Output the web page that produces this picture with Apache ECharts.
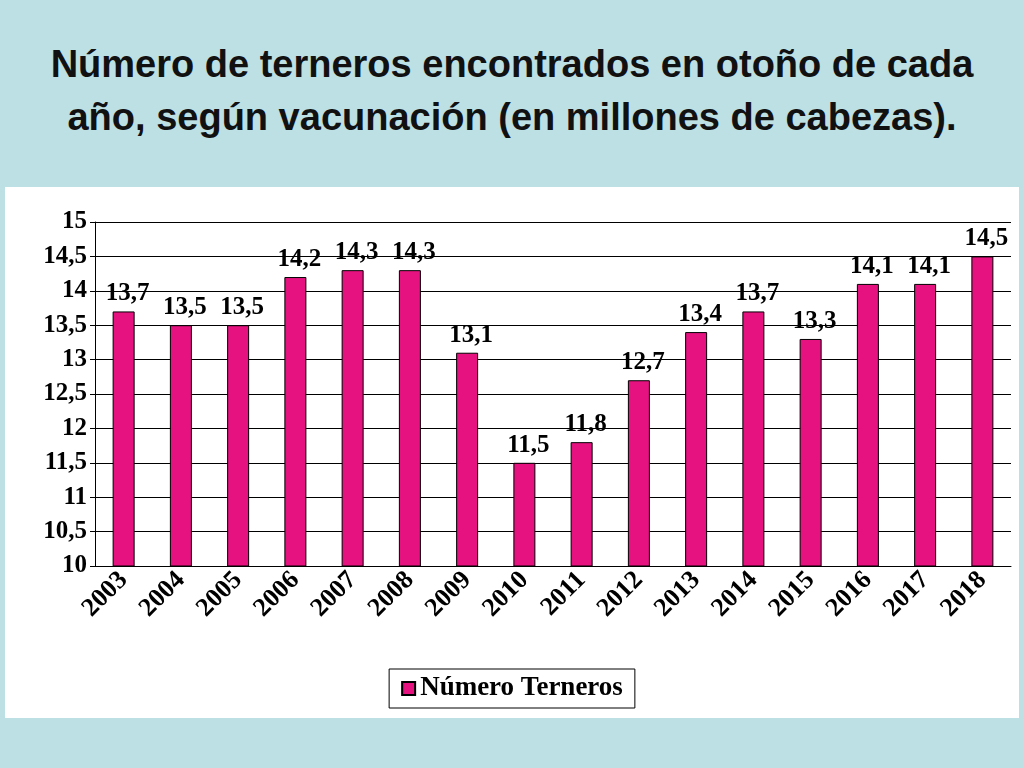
<!DOCTYPE html>
<html><head><meta charset="utf-8">
<script src="https://cdn.jsdelivr.net/npm/echarts@6/dist/echarts.min.js"></script>
<style>
body{margin:0;background:#bde0e5;}
#title{position:absolute;left:0;top:38px;width:1024px;text-align:center;font:bold 38px "Liberation Sans",Arial,sans-serif;line-height:53px;color:#111;}
#panel{position:absolute;left:5px;top:187px;width:1014px;height:531px;background:#fff;}
#chart{position:absolute;left:0;top:0;width:1014px;height:531px;}
</style></head>
<body>
<div id="title">Número de terneros encontrados en otoño de cada<br>año, según vacunación (en millones de cabezas).</div>
<div id="panel"><div id="chart"></div></div>
<script>
var years = ['2003','2004','2005','2006','2007','2008','2009','2010','2011','2012','2013','2014','2015','2016','2017','2018'];
var terneros = [13.7,13.5,13.5,14.2,14.3,14.3,13.1,11.5,11.8,12.7,13.4,13.7,13.3,14.1,14.1,14.5];

var myChart = echarts.init(document.getElementById('chart'));
var serif = '"Liberation Serif","Times New Roman",serif';
var option = {
    animation:false,
    grid:{left:90,right:8,top:35,bottom:152},
    legend:{
        bottom:10,left:'center',
        data:['Número Terneros'],
        icon:'rect',itemWidth:13,itemHeight:13,
        padding:[6,12],borderColor:'#000',borderWidth:1,
        textStyle:{fontFamily:serif,fontWeight:'bold',fontSize:27,color:'#000'}
    },
    xAxis:{
        type:'category',data:years,
        axisLine:{lineStyle:{color:'#000'}},
        axisTick:{show:false},
        axisLabel:{rotate:45,fontFamily:serif,fontWeight:'bold',fontSize:26,color:'#000',margin:10}
    },
    yAxis:{
        type:'value',min:10,max:15,interval:0.5,
        axisLine:{show:true,lineStyle:{color:'#000'}},
        axisTick:{show:true,lineStyle:{color:'#000'}},
        splitLine:{lineStyle:{color:'#000'}},
        axisLabel:{fontFamily:serif,fontWeight:'bold',fontSize:25,color:'#000',
            formatter:function(v){return String(v).replace('.',',');}}
    },
    series:[{
        name:'Número Terneros',type:'bar',data:terneros,barWidth:22,
        itemStyle:{color:'#e5127f',borderColor:'#000',borderWidth:1},
        label:{show:true,position:'top',offset:[4,0],fontFamily:serif,fontWeight:'bold',fontSize:25,color:'#000',
            formatter:function(p){return String(p.value).replace('.',',');}}
    }]
};
myChart.setOption(option);
</script>
</body></html>
